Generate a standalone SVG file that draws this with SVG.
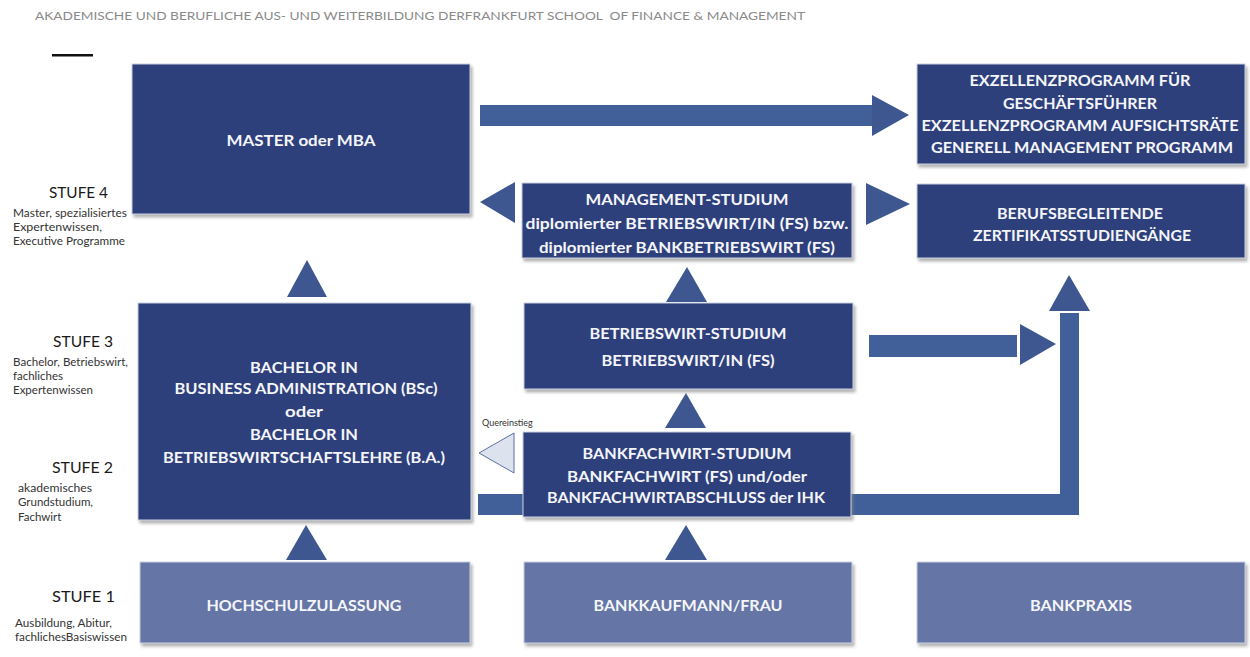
<svg xmlns="http://www.w3.org/2000/svg" width="1250" height="657" viewBox="0 0 1250 657">
  <defs>
    <filter id="sh" x="-5%" y="-5%" width="110%" height="115%">
      <feDropShadow dx="2" dy="3" stdDeviation="1.5" flood-color="#808080" flood-opacity="0.6"/>
    </filter>
  </defs>
  <style>
    .dark { fill: #2f3f7c; stroke: #c9d0e0; stroke-width: 1; filter: url(#sh); }
    .light { fill: #6575a6; stroke: #c9d0e0; stroke-width: 1; filter: url(#sh); }
    .bt { font-family: Lato, "Open Sans", sans-serif; font-weight: bold; font-size: 15.5px; fill: #f4f5f8; text-anchor: middle; }
    .conn { fill: #3e5791; }
    .bar { fill: #41609a; }
    .stufe { font-family: Lato, "Open Sans", sans-serif; font-size: 15px; fill: #1a1a1a; }
    .sub { font-family: Lato, "Open Sans", sans-serif; font-size: 11.5px; fill: #333333; }
    .hdr { font-family: Lato, "Open Sans", sans-serif; font-size: 12px; fill: #8a8a8a; }
  </style>
  <rect width="1250" height="657" fill="#ffffff"/>

  <text class="hdr" x="35" y="19.5" xml:space="preserve" textLength="770" lengthAdjust="spacingAndGlyphs">AKADEMISCHE UND BERUFLICHE AUS- UND WEITERBILDUNG DERFRANKFURT SCHOOL  OF FINANCE &amp; MANAGEMENT</text>
  <rect x="52" y="54" width="41" height="2.5" fill="#111111"/>

  <g id="levels">
    <text class="stufe" x="49" y="198" textLength="59" lengthAdjust="spacingAndGlyphs">STUFE 4</text>
    <text class="sub" x="13" y="217" textLength="114" lengthAdjust="spacingAndGlyphs">Master, spezialisiertes</text>
    <text class="sub" x="13" y="231" textLength="89" lengthAdjust="spacingAndGlyphs">Expertenwissen,</text>
    <text class="sub" x="13" y="245" textLength="112" lengthAdjust="spacingAndGlyphs">Executive Programme</text>

    <text class="stufe" x="53" y="347" textLength="60" lengthAdjust="spacingAndGlyphs">STUFE 3</text>
    <text class="sub" x="13" y="366" textLength="115" lengthAdjust="spacingAndGlyphs">Bachelor, Betriebswirt,</text>
    <text class="sub" x="13" y="380">fachliches</text>
    <text class="sub" x="13" y="394">Expertenwissen</text>

    <text class="stufe" x="52" y="473" textLength="61" lengthAdjust="spacingAndGlyphs">STUFE 2</text>
    <text class="sub" x="18" y="492" textLength="74" lengthAdjust="spacingAndGlyphs">akademisches</text>
    <text class="sub" x="18" y="506">Grundstudium,</text>
    <text class="sub" x="18" y="521">Fachwirt</text>

    <text class="stufe" x="52" y="602" textLength="63" lengthAdjust="spacingAndGlyphs">STUFE 1</text>
    <text class="sub" x="15" y="627" textLength="97" lengthAdjust="spacingAndGlyphs">Ausbildung, Abitur,</text>
    <text class="sub" x="15" y="641" textLength="112" lengthAdjust="spacingAndGlyphs">fachlichesBasiswissen</text>
  </g>

  <g id="connectors">
    <rect class="bar" x="480" y="105" width="392" height="21"/>
    <polygon class="conn" points="872,95 872,136 909,115"/>
    <polygon class="conn" points="515,182 515,223 480,202"/>
    <polygon class="conn" points="866,183 866,225 910,204"/>
    <polygon class="conn" points="287,297 327,297 307,260"/>
    <polygon class="conn" points="666,302 707,302 687,267"/>
    <polygon class="conn" points="665,428 706,428 686,393"/>
    <polygon class="conn" points="665,560 707,560 686,525"/>
    <polygon class="conn" points="286,560 327,560 306,525"/>
    <rect class="bar" x="869" y="335" width="148" height="22"/>
    <polygon class="conn" points="1020,324 1020,365 1056,344"/>
    <rect class="bar" x="478" y="494" width="48" height="21"/>
    <rect class="bar" x="850" y="494" width="229" height="21"/>
    <rect class="bar" x="1060" y="313" width="19" height="202"/>
    <polygon class="conn" points="1049,311 1090,311 1069,275"/>
    <polygon points="514,433 514,473 479,453" fill="#dde3ee" stroke="#5b6fa3" stroke-width="1"/>
    <text x="482" y="426" font-family="Lato, 'Open Sans', sans-serif" font-size="9px" fill="#333333">Quereinstieg</text>
  </g>

  <g id="master">
    <rect class="dark" x="132" y="64" width="338" height="150"/>
    <text class="bt" x="301" y="145.5" font-size="16px" textLength="149" lengthAdjust="spacingAndGlyphs">MASTER oder MBA</text>
  </g>

  <g id="exzellenz">
    <rect class="dark" x="917" y="64" width="328" height="100"/>
    <text class="bt" x="1080" y="85.5" textLength="221" lengthAdjust="spacingAndGlyphs">EXZELLENZPROGRAMM FÜR</text>
    <text class="bt" x="1080" y="108.5" textLength="154" lengthAdjust="spacingAndGlyphs">GESCHÄFTSFÜHRER</text>
    <text class="bt" x="1080" y="130.5" textLength="317" lengthAdjust="spacingAndGlyphs">EXZELLENZPROGRAMM AUFSICHTSRÄTE</text>
    <text class="bt" x="1082" y="152.5" textLength="302" lengthAdjust="spacingAndGlyphs">GENERELL MANAGEMENT PROGRAMM</text>
  </g>

  <g id="management">
    <rect class="dark" x="522" y="183" width="330" height="75"/>
    <text class="bt" x="687" y="204.5" textLength="203" lengthAdjust="spacingAndGlyphs">MANAGEMENT-STUDIUM</text>
    <text class="bt" x="687" y="229" textLength="323" lengthAdjust="spacingAndGlyphs">diplomierter BETRIEBSWIRT/IN (FS) bzw.</text>
    <text class="bt" x="687" y="253" textLength="296" lengthAdjust="spacingAndGlyphs">diplomierter BANKBETRIEBSWIRT (FS)</text>
  </g>

  <g id="berufsbegleitend">
    <rect class="dark" x="917" y="184" width="328" height="74"/>
    <text class="bt" x="1080" y="218.5" textLength="166" lengthAdjust="spacingAndGlyphs">BERUFSBEGLEITENDE</text>
    <text class="bt" x="1082" y="240.5" textLength="218" lengthAdjust="spacingAndGlyphs">ZERTIFIKATSSTUDIENGÄNGE</text>
  </g>

  <g id="bachelor">
    <rect class="dark" x="138" y="303" width="333" height="217"/>
    <text class="bt" x="304" y="372.5" textLength="108" lengthAdjust="spacingAndGlyphs">BACHELOR IN</text>
    <text class="bt" x="306" y="394" textLength="263" lengthAdjust="spacingAndGlyphs">BUSINESS ADMINISTRATION (BSc)</text>
    <text class="bt" x="304" y="417" textLength="38" lengthAdjust="spacingAndGlyphs">oder</text>
    <text class="bt" x="304" y="440" textLength="108" lengthAdjust="spacingAndGlyphs">BACHELOR IN</text>
    <text class="bt" x="304" y="462.5" textLength="282" lengthAdjust="spacingAndGlyphs">BETRIEBSWIRTSCHAFTSLEHRE (B.A.)</text>
  </g>

  <g id="betriebswirt">
    <rect class="dark" x="524" y="303" width="329" height="86"/>
    <text class="bt" x="688" y="338.5" textLength="197" lengthAdjust="spacingAndGlyphs">BETRIEBSWIRT-STUDIUM</text>
    <text class="bt" x="688" y="365.5" textLength="173" lengthAdjust="spacingAndGlyphs">BETRIEBSWIRT/IN (FS)</text>
  </g>

  <g id="bankfachwirt">
    <rect class="dark" x="523" y="432" width="328" height="85"/>
    <text class="bt" x="687" y="458.5" textLength="209" lengthAdjust="spacingAndGlyphs">BANKFACHWIRT-STUDIUM</text>
    <text class="bt" x="687" y="481.5" textLength="240" lengthAdjust="spacingAndGlyphs">BANKFACHWIRT (FS) und/oder</text>
    <text class="bt" x="686" y="502.5" textLength="278" lengthAdjust="spacingAndGlyphs">BANKFACHWIRTABSCHLUSS der IHK</text>
  </g>

  <g id="hochschulzulassung">
    <rect class="light" x="140" y="562" width="330" height="81"/>
    <text class="bt" x="304" y="610.5" textLength="195" lengthAdjust="spacingAndGlyphs">HOCHSCHULZULASSUNG</text>
  </g>

  <g id="bankkaufmann">
    <rect class="light" x="524" y="562" width="328" height="81"/>
    <text class="bt" x="688" y="610.5" textLength="189" lengthAdjust="spacingAndGlyphs">BANKKAUFMANN/FRAU</text>
  </g>

  <g id="bankpraxis">
    <rect class="light" x="917" y="562" width="328" height="81"/>
    <text class="bt" x="1081" y="610.5" textLength="102" lengthAdjust="spacingAndGlyphs">BANKPRAXIS</text>
  </g>
</svg>
